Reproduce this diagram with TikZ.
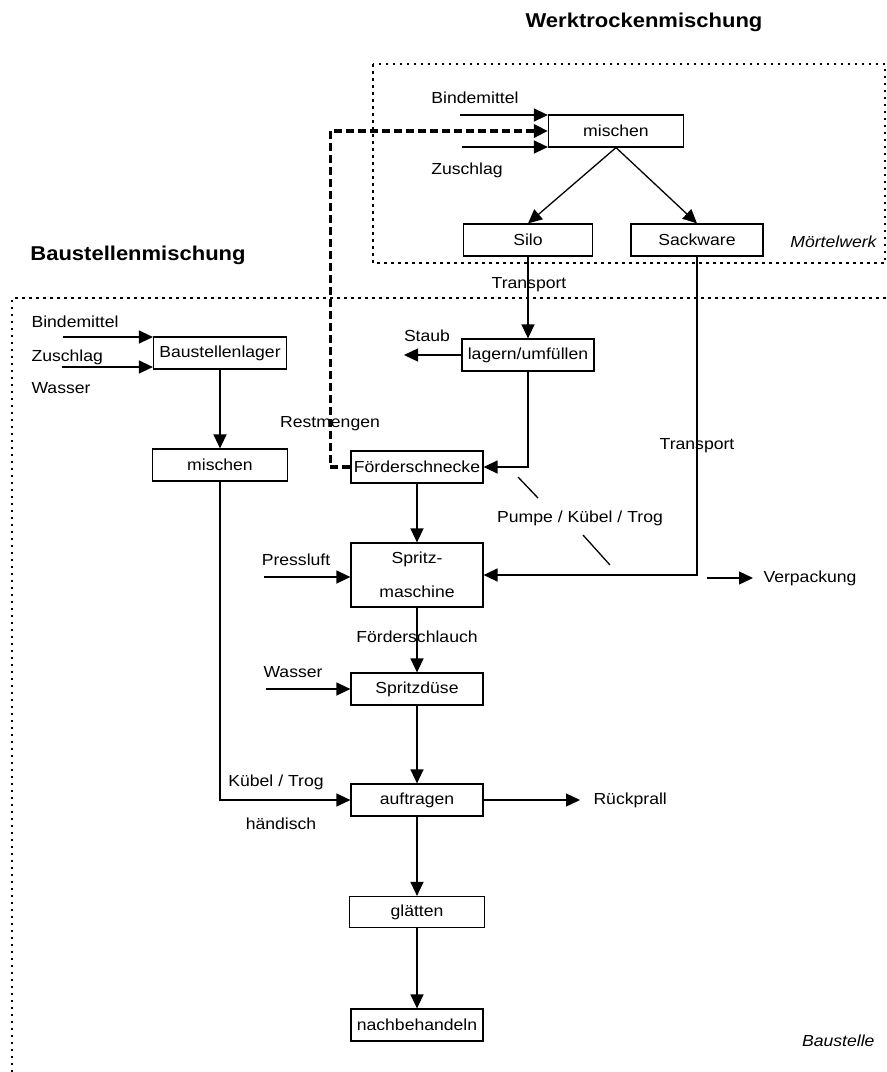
\documentclass[tikz,border=0pt]{standalone}
\usepackage{fontspec}
\setmainfont[FakeStretch=1.1]{Liberation Sans}
\usetikzlibrary{arrows.meta}

\begin{document}
\begin{tikzpicture}[x=1pt,y=-1pt,
  every node/.style={font=\fontsize{16}{18}\selectfont},
  box/.style={draw,line width=1.2pt,minimum width=132pt,minimum height=32pt,inner sep=1pt},
  arr/.style={line width=1.3pt,-{Triangle[length=14pt,width=13pt]}},
  plain/.style={line width=1.3pt},
  zone/.style={line width=2.5pt,dash pattern=on 2.5pt off 4.5pt},
  rest/.style={line width=3.8pt,dash pattern=on 8pt off 4pt,-{Triangle[length=14pt,width=13pt]}},
  title/.style={font=\fontsize{20}{24}\selectfont\bfseries},
  place/.style={font=\fontsize{16}{18}\selectfont\itshape}]
\useasboundingbox (0,0) rectangle (887,1072);

% areas
\node[title] (tw) at (644,22) {Werktrockenmischung};
\node[title] (tb) at (138,255) {Baustellenmischung};
\draw[zone] (373,64) rectangle (885,263);
\node[place,anchor=east] (mw) at (880,242) {Mörtelwerk};
\draw[zone] (12,1072) -- (12,298) -- (887,298);
\node[place,anchor=east] (bs) at (878,1041) {Baustelle};

% Moertelwerk
\node[box,minimum width=135pt] (mix1) at (616,131) {mischen};
\node[box,minimum width=129pt] (silo) at (528,240) {Silo};
\node[box] (sack) at (697,240) {Sackware};
\coordinate (bm1) at (460,115);
\coordinate (zs1) at (462,147);
\draw[arr] (bm1) -- (bm1 -| mix1.west);
\draw[arr] (zs1) -- (zs1 -| mix1.west);
\node (lbm1) at (475,98) {Bindemittel};
\node (lzs1) at (467,170) {Zuschlag};
\draw[arr] (mix1.south) -- (silo.north);
\draw[arr] (mix1.south) -- (sack.north);

% Baustelle
\node[box] (lager) at (528,355) {lagern/umfüllen};
\node[box] (foerd) at (417,467) {Förderschnecke};
\node[box,minimum width=133pt] (blager) at (220,353) {Baustellenlager};
\node[box,minimum width=135pt] (mix2) at (220,465) {mischen};
\node[box,minimum height=64pt,align=center,font=\fontsize{16}{34}\selectfont] (spritz) at (417,575) {Spritz-\\maschine};
\node[box] (duese) at (417,689) {Spritzdüse};
\node[box] (auftr) at (417,800) {auftragen};
\node[box,minimum width=135pt,minimum height=31pt] (glatt) at (417,912) {glätten};
\node[box] (nach) at (417,1025) {nachbehandeln};

\draw[arr] (silo.south) -- (lager.north);
\node (ltr1) at (529,285) {Transport};
\coordinate (staub) at (404,355);
\draw[arr] (lager.west) -- (staub);
\node (lstaub) at (427,336) {Staub};
\draw[arr] (lager.south) |- (foerd.east);
\draw[rest] (foerd.west) -- ++(-20,0) |- (mix1.west);
\node (lrest) at (330,424) {Restmengen};

\draw[arr] (sack.south) |- (spritz.east);
\node (ltr2) at (697,446) {Transport};
\draw[plain] (518,477) -- (538,498);
\draw[plain] (583,535) -- (610,565);
\node (lpumpe) at (580,518) {Pumpe / Kübel / Trog};
\coordinate (vp1) at (707,578);
\coordinate (vp2) at (753,578);
\draw[arr] (vp1) -- (vp2);
\node[anchor=west] (lvp) at (760,578) {Verpackung};

\coordinate (bm2) at (63,337);
\coordinate (zs2) at (62,367);
\draw[arr] (bm2) -- (bm2 -| blager.west);
\draw[arr] (zs2) -- (zs2 -| blager.west);
\node[anchor=west] (lbm2) at (28,322) {Bindemittel};
\node[anchor=west] (lzs2) at (28,357) {Zuschlag};
\node[anchor=west] (lwa2) at (28,388) {Wasser};
\draw[arr] (blager.south) -- (mix2.north);
\draw[arr] (mix2.south) |- (auftr.west);
\node (lkt) at (276,782) {Kübel / Trog};
\node (lhd) at (281,824) {händisch};

\draw[arr] (foerd.south) -- (spritz.north);
\coordinate (pl) at (264,577);
\draw[arr] (pl) -- (pl -| spritz.west);
\node (lpl) at (296,560) {Pressluft};
\draw[arr] (spritz.south) -- (duese.north);
\node (lfs) at (417,637) {Förderschlauch};
\coordinate (wa) at (266,689);
\draw[arr] (wa) -- (duese.west);
\node (lwa) at (293,672) {Wasser};
\draw[arr] (duese.south) -- (auftr.north);
\coordinate (rp) at (580,800);
\draw[arr] (auftr.east) -- (rp);
\node[anchor=west] (lrp) at (590,800) {Rückprall};
\draw[arr] (auftr.south) -- (glatt.north);
\draw[arr] (glatt.south) -- (nach.north);
\end{tikzpicture}
\end{document}
